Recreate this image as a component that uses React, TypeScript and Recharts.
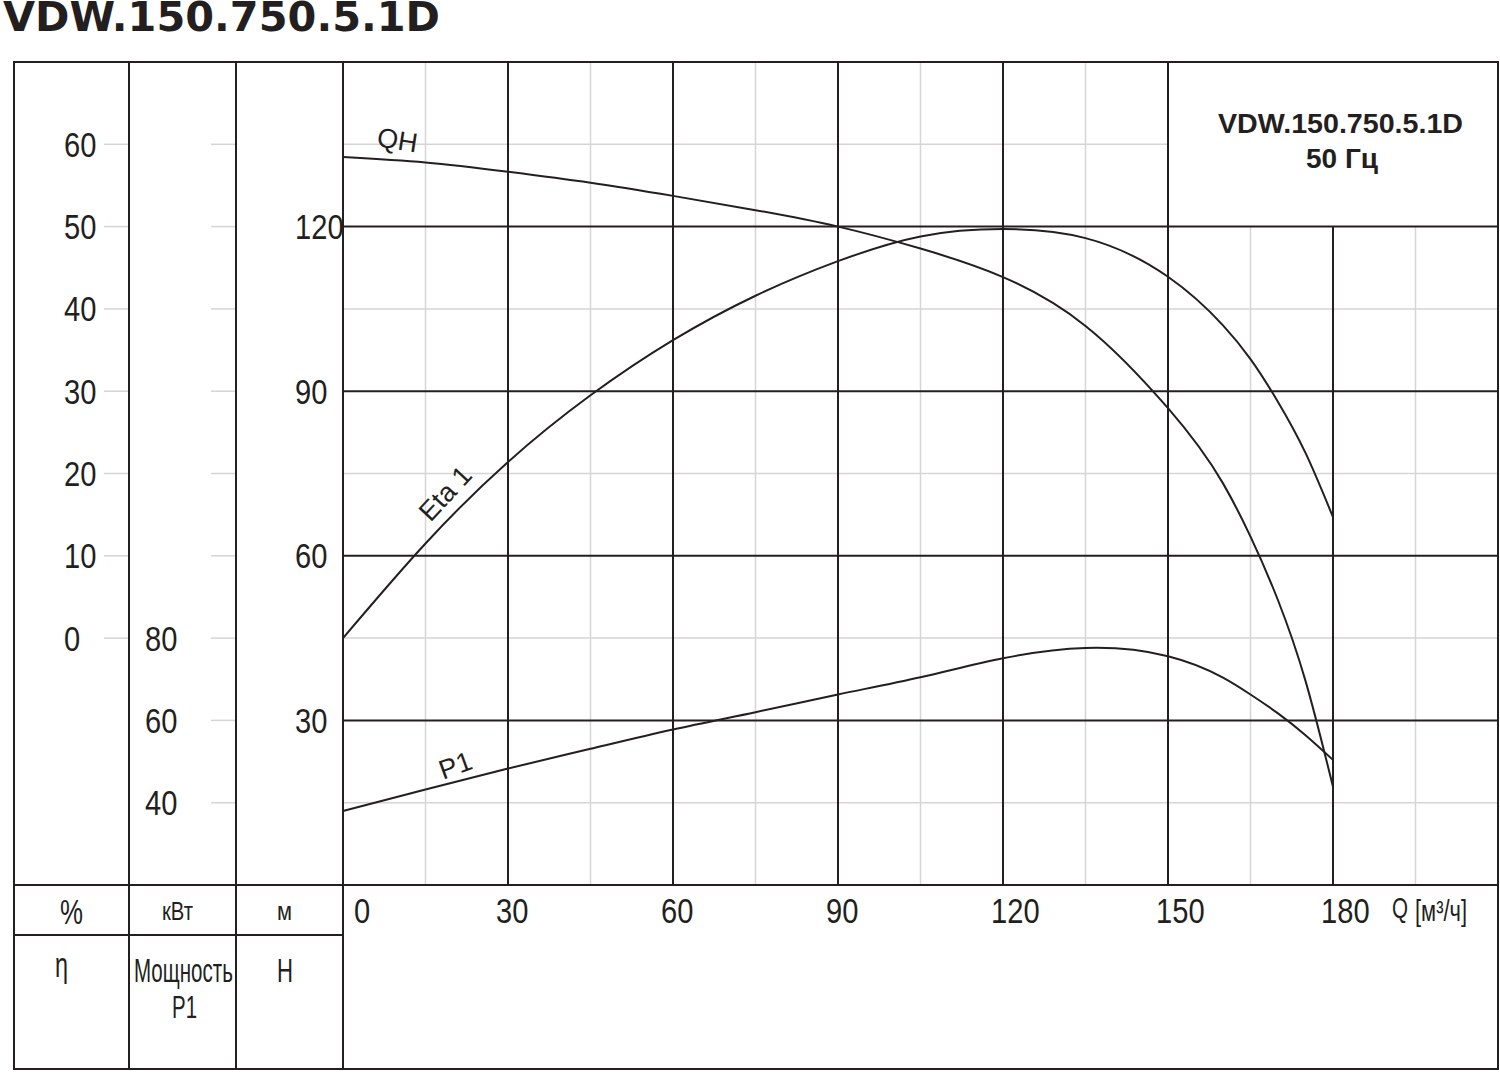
import React from "react";
import { ComposedChart, Line, XAxis, YAxis, ReferenceLine } from "recharts";

// pump curve, Q in m3/h
const flow = [0, 15, 30, 45, 60, 75, 90, 105, 120, 135, 150, 160, 165, 170, 175, 180];
// QH, head in m
const head = [132.7, 131.7, 130.0, 128.0, 125.6, 123.0, 120.0, 116.0, 110.8, 101.9, 86.9, 73.2, 63.5, 51.9, 37.2, 17.9];
// Eta 1, efficiency in %
const efficiency = [0, 11.5, 21.4, 29.5, 36.2, 41.6, 45.8, 48.8, 49.7, 48.6, 43.9, 38.0, 33.9, 28.7, 22.5, 14.7];
// P1, power in kW
const power = [38.0, 43.2, 48.3, 53.1, 57.8, 62.0, 66.3, 70.5, 75.1, 77.6, 75.6, 70.4, 66.3, 61.7, 56.4, 50.4];

const qTicks = [0, 30, 60, 90, 120, 150, 180];
const qMajor = [30, 60, 90, 120, 150, 180];
const qMinor = [15, 45, 75, 105, 135, 165, 195];
const headTicks = [30, 60, 90, 120];
const headMinor = [15, 45, 75, 105, 135];
const etaTicks = [0, 10, 20, 30, 40, 50, 60];
const powerTicks = [40, 60, 80, 100, 120, 140, 160, 180, 200];
const powerShown = [40, 60, 80];

// the model box in the top right corner covers the grid above this head / right of this flow
const boxQ = 150;
const boxH = 120;

const data = flow.map((q, i) => ({ q, h: head[i], eta: efficiency[i], p: power[i] }));

const INK = "#231f20";
const GRID = "#d5d5d5";
const NARROW = "'Liberation Sans Narrow', 'Liberation Sans', Arial, sans-serif";
const SANS = "'Liberation Sans', Arial, sans-serif";

// cubic spline y(x) over uneven x steps, like the datasheet curves (natural ends)
const splineX = (context: any) => {
  let xs: number[] = [];
  let ys: number[] = [];
  return {
    areaStart() {},
    areaEnd() {},
    lineStart() {
      xs = [];
      ys = [];
    },
    point(x: number, y: number) {
      xs.push(+x);
      ys.push(+y);
    },
    lineEnd() {
      const n = xs.length;
      if (!n) return;
      context.moveTo(xs[0], ys[0]);
      if (n < 3) {
        if (n === 2) context.lineTo(xs[1], ys[1]);
        return;
      }
      const h = xs.slice(1).map((x, i) => x - xs[i]);
      const m = new Array(n).fill(0);
      const a: number[] = [], b: number[] = [], c: number[] = [], r: number[] = [];
      for (let i = 1; i < n - 1; i++) {
        a.push(h[i - 1]);
        b.push(2 * (h[i - 1] + h[i]));
        c.push(h[i]);
        r.push(6 * ((ys[i + 1] - ys[i]) / h[i] - (ys[i] - ys[i - 1]) / h[i - 1]));
      }
      const k = r.length;
      for (let i = 1; i < k; i++) {
        const w = a[i] / b[i - 1];
        b[i] -= w * c[i - 1];
        r[i] -= w * r[i - 1];
      }
      for (let i = k - 1; i >= 0; i--) {
        m[i + 1] = (r[i] - (i < k - 1 ? c[i] * m[i + 2] : 0)) / b[i];
      }
      for (let i = 0; i < n - 1; i++) {
        const hi = h[i];
        const s = (ys[i + 1] - ys[i]) / hi;
        const d0 = s - (hi * (2 * m[i] + m[i + 1])) / 6;
        const d1 = s + (hi * (m[i] + 2 * m[i + 1])) / 6;
        context.bezierCurveTo(
          xs[i] + hi / 3,
          ys[i] + (d0 * hi) / 3,
          xs[i + 1] - hi / 3,
          ys[i + 1] - (d1 * hi) / 3,
          xs[i + 1],
          ys[i + 1]
        );
      }
    },
  };
};

const num = (x: number, y: number, s: string) => (
  <text x={x} y={y} fill={INK} fontSize={35} fontFamily={NARROW} textLength={s.length * 16.2} lengthAdjust="spacingAndGlyphs">
    {s}
  </text>
);

const EtaTick = (p: any) => (
  <g>
    <line x1={104} x2={129} y1={p.y} y2={p.y} stroke={GRID} strokeWidth={1.5} />
    {num(64, p.y + 12.5, String(p.payload.value))}
  </g>
);

const PowerTick = (p: any) => (
  <g>
    <line x1={211} x2={236} y1={p.y} y2={p.y} stroke={GRID} strokeWidth={1.5} />
    {powerShown.includes(p.payload.value) ? num(145, p.y + 12.5, String(p.payload.value)) : null}
  </g>
);

const HeadTick = (p: any) => <g>{num(295, p.y + 12.5, String(p.payload.value))}</g>;

const FlowTick = (p: any) => {
  const v = p.payload.value;
  return <g>{num(v === 0 ? p.x + 11 : p.x - 12, p.y + 38, String(v))}</g>;
};

const curveLabel = (text: string, at: number, dx: number, dy: number, angle: number) => (p: any) => {
  if (p.index !== at) return null;
  const cx = p.x + dx;
  const cy = p.y + dy;
  return (
    <text
      x={cx}
      y={cy}
      textAnchor="middle"
      dominantBaseline="central"
      fontSize={27}
      fontFamily={SANS}
      fill={INK}
      transform={`rotate(${angle} ${cx} ${cy})`}
    >
      {text}
    </text>
  );
};

// condensed text: squeeze horizontally so the box the browser reports is the squeezed one
const Squeezed = ({ x, y, size, width, sx, children }: any) => (
  <text
    transform={`translate(${x} ${y}) scale(${sx} 1)`}
    fill={INK}
    fontFamily={NARROW}
    fontSize={size}
    textLength={width / sx}
    lengthAdjust="spacingAndGlyphs"
  >
    {children}
  </text>
);

function Frame() {
  const l = { stroke: INK, strokeWidth: 2 };
  return (
    <svg width={1500} height={1072} style={{ position: "absolute", left: 0, top: 0, pointerEvents: "none" }}>
      <text x={3} y={31} fill={INK} fontFamily="'DejaVu Sans', Verdana, sans-serif" fontWeight="bold" fontSize={41} textLength={437} lengthAdjust="spacingAndGlyphs">
        VDW.150.750.5.1D
      </text>
      <rect x={14} y={62} width={1484} height={1007} fill="none" {...l} />
      <line x1={129} x2={129} y1={62} y2={1069} {...l} />
      <line x1={236} x2={236} y1={62} y2={1069} {...l} />
      <line x1={343} x2={343} y1={62} y2={1069} {...l} />
      <line x1={14} x2={1498} y1={885} y2={885} {...l} />
      <line x1={14} x2={343} y1={935} y2={935} {...l} />

      <text x={1340.5} y={133} textAnchor="middle" fill={INK} fontFamily={SANS} fontWeight="bold" fontSize={28} textLength={245} lengthAdjust="spacingAndGlyphs">
        VDW.150.750.5.1D
      </text>
      <text x={1342} y={168} textAnchor="middle" fill={INK} fontFamily={SANS} fontWeight="bold" fontSize={28}>
        50 Гц
      </text>

      <Squeezed x={60} y={924} size={35} width={23} sx={0.8}>%</Squeezed>
      <Squeezed x={162} y={920} size={25} width={31} sx={0.8}>кВт</Squeezed>
      <Squeezed x={277} y={920} size={25} width={15} sx={0.8}>м</Squeezed>
      <Squeezed x={55} y={977} size={35} width={13} sx={0.7}>η</Squeezed>
      <Squeezed x={134} y={982} size={34} width={99} sx={0.62}>Мощность</Squeezed>
      <Squeezed x={172} y={1018} size={31} width={25} sx={0.75}>P1</Squeezed>
      <Squeezed x={277} y={982} size={34} width={16} sx={0.7}>H</Squeezed>
      <Squeezed x={1392} y={918} size={29} width={16} sx={0.75}>Q</Squeezed>
      <Squeezed x={1415} y={921} size={29} width={52} sx={0.75}>[м³/ч]</Squeezed>
    </svg>
  );
}

export default function App() {
  return (
    <div style={{ position: "absolute", left: 0, top: 0, width: 1500, height: 1072, background: "#fff" }}>
      <ComposedChart width={1500} height={1072} data={data} margin={{ top: 62, right: 2, bottom: 137, left: 14 }}>
        <XAxis
          dataKey="q"
          type="number"
          domain={[0, 210]}
          ticks={qTicks}
          interval={0}
          height={50}
          axisLine={false}
          tickLine={false}
          tickSize={0}
          tickMargin={0}
          tick={FlowTick}
        />
        <YAxis
          yAxisId="h"
          type="number"
          domain={[0, 150]}
          ticks={headTicks}
          interval={0}
          width={107}
          axisLine={false}
          tickLine={false}
          tickSize={0}
          tickMargin={0}
          tick={HeadTick}
        />
        <YAxis
          yAxisId="p"
          type="number"
          domain={[20, 220]}
          allowDataOverflow
          ticks={powerTicks}
          interval={0}
          width={107}
          axisLine={false}
          tickLine={false}
          tickSize={0}
          tickMargin={0}
          tick={PowerTick}
        />
        <YAxis
          yAxisId="eta"
          type="number"
          domain={[-30, 70]}
          allowDataOverflow
          ticks={etaTicks}
          interval={0}
          width={115}
          axisLine={false}
          tickLine={false}
          tickSize={0}
          tickMargin={0}
          tick={EtaTick}
        />

        {qMinor.map((q) => (
          <ReferenceLine
            key={`qm${q}`}
            yAxisId="h"
            segment={[{ x: q, y: 0 }, { x: q, y: q > boxQ ? boxH : 150 }]}
            stroke={GRID}
            strokeWidth={1.5}
          />
        ))}
        {headMinor.map((h) => (
          <ReferenceLine
            key={`hm${h}`}
            yAxisId="h"
            segment={[{ x: 0, y: h }, { x: h > boxH ? boxQ : 210, y: h }]}
            stroke={GRID}
            strokeWidth={1.5}
          />
        ))}
        {qMajor.map((q) => (
          <ReferenceLine
            key={`qM${q}`}
            yAxisId="h"
            segment={[{ x: q, y: 0 }, { x: q, y: q > boxQ ? boxH : 150 }]}
            stroke={INK}
            strokeWidth={2}
          />
        ))}
        {headTicks.map((h) => (
          <ReferenceLine key={`hM${h}`} yAxisId="h" y={h} stroke={INK} strokeWidth={2} />
        ))}

        <Line
          yAxisId="h"
          dataKey="h"
          type={splineX as any}
          stroke={INK}
          strokeWidth={2}
          dot={false}
          isAnimationActive={false}
          label={curveLabel("QH", 1, -28, -22, 9)}
        />
        <Line
          yAxisId="eta"
          dataKey="eta"
          type={splineX as any}
          stroke={INK}
          strokeWidth={2}
          dot={false}
          isAnimationActive={false}
          label={curveLabel("Eta 1", 1, 20, -50, -47)}
        />
        <Line
          yAxisId="p"
          dataKey="p"
          type={splineX as any}
          stroke={INK}
          strokeWidth={2}
          dot={false}
          isAnimationActive={false}
          label={curveLabel("P1", 1, 30, -24, -20)}
        />
      </ComposedChart>
      <Frame />
    </div>
  );
}
